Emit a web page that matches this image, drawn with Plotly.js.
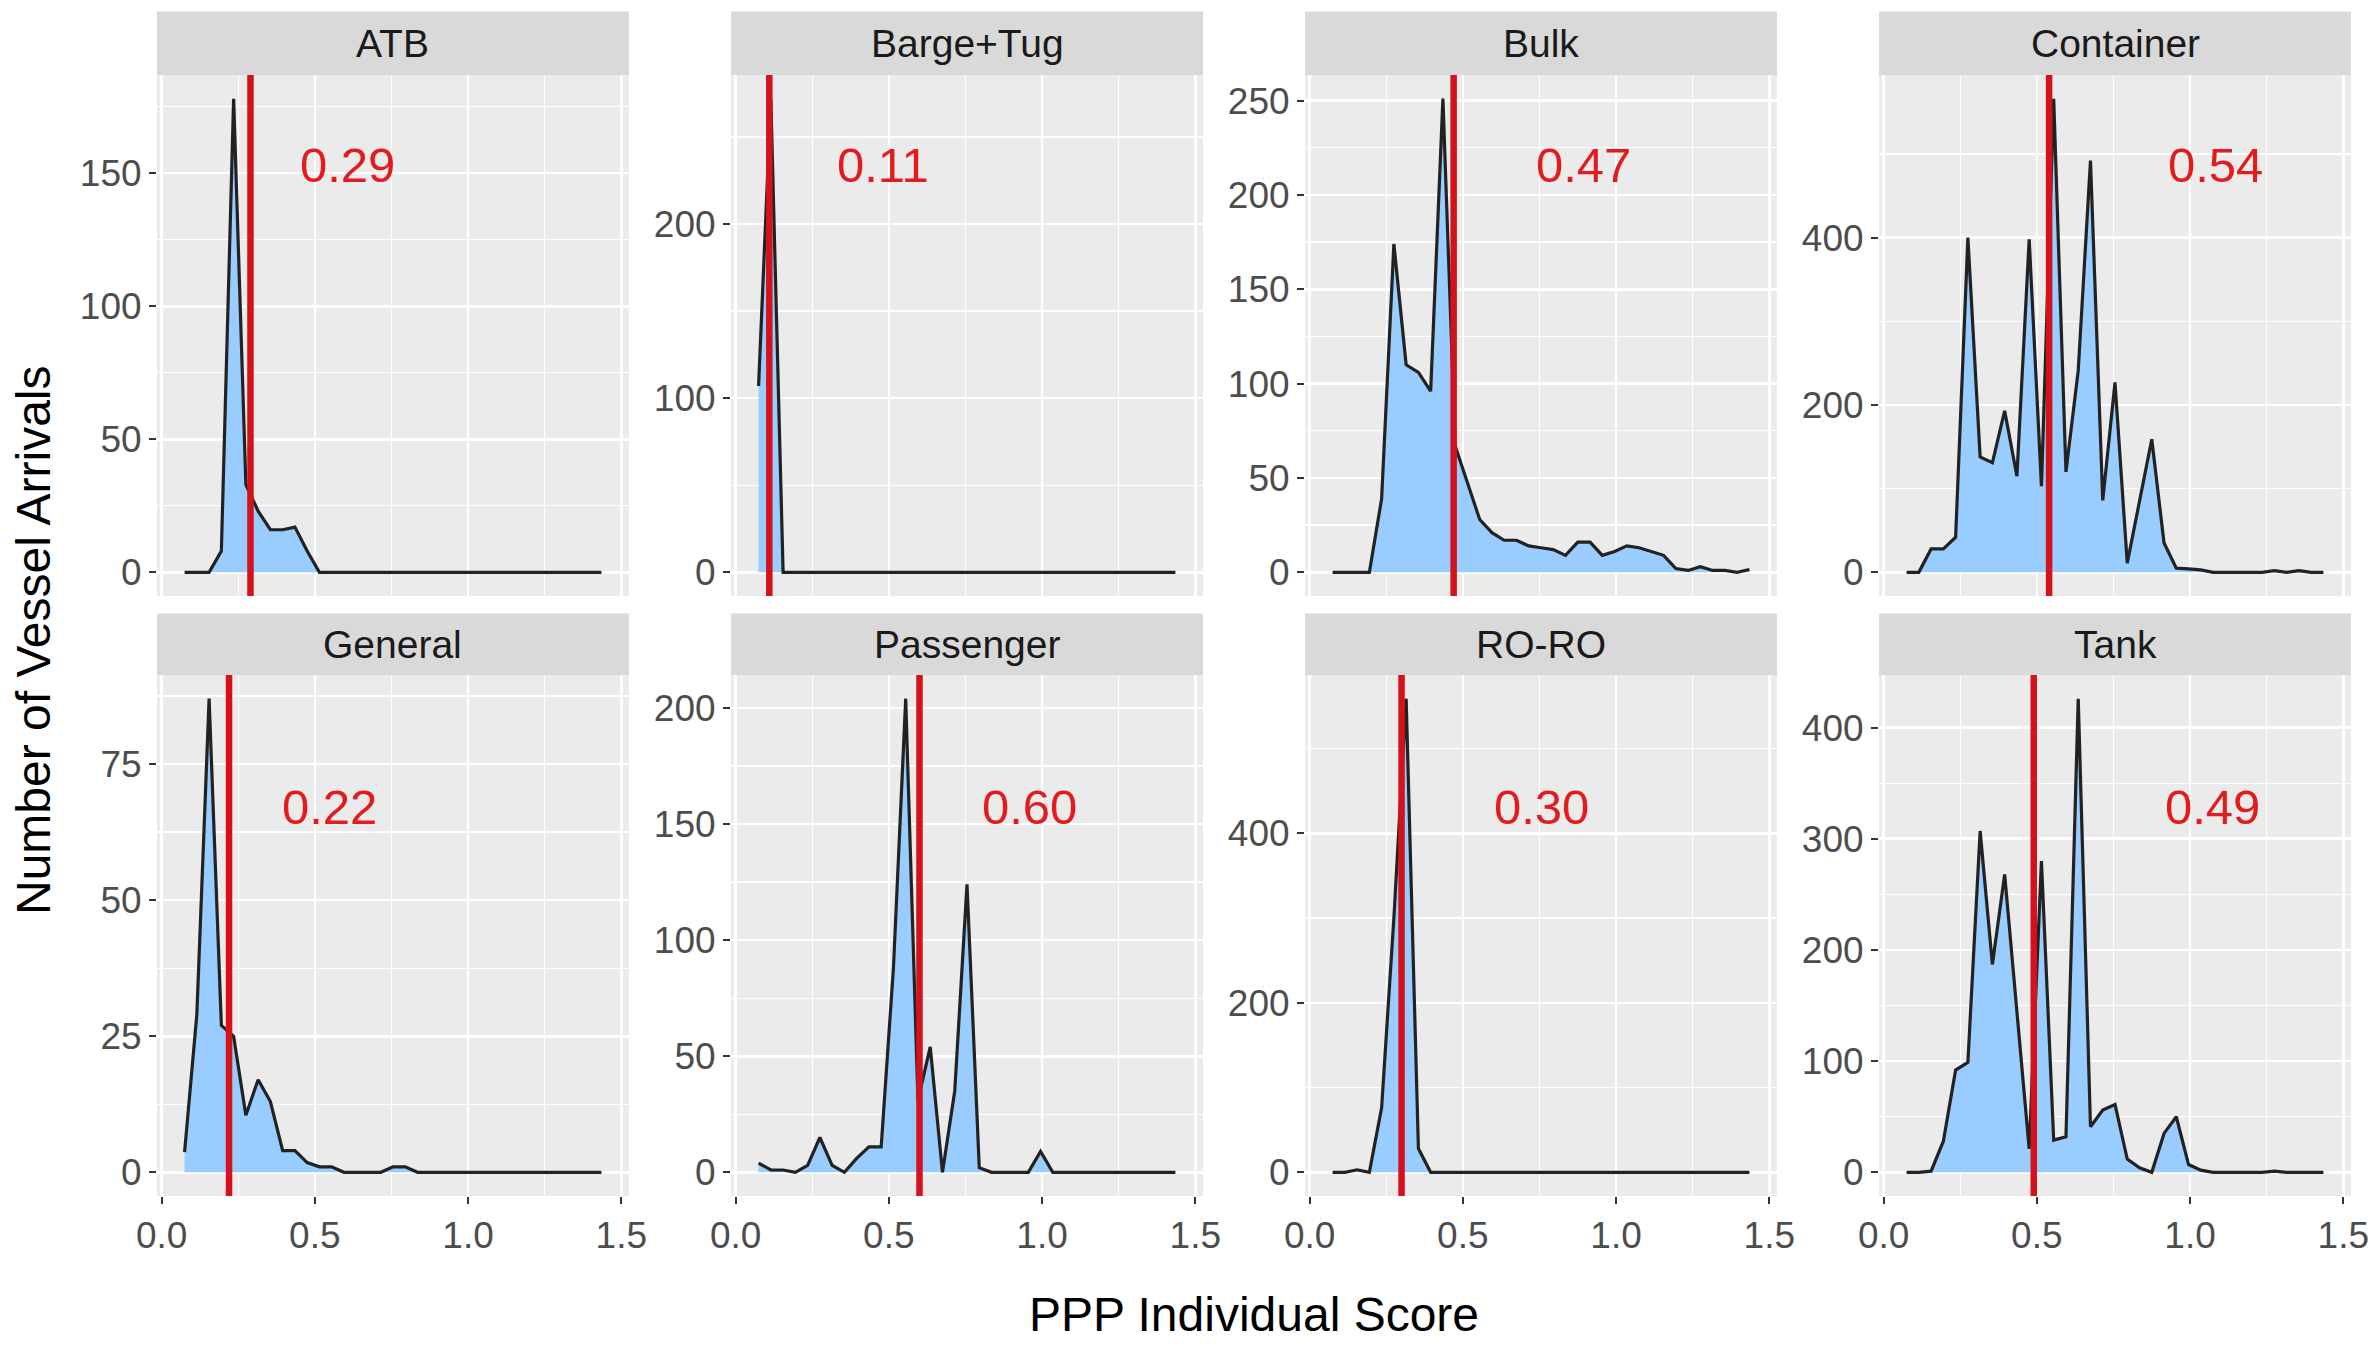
<!DOCTYPE html>
<html>
<head>
<meta charset="utf-8">
<script src="https://cdn.plot.ly/plotly-3.0.1.min.js"></script>
<style>
  html, body { margin: 0; padding: 0; background: #ffffff; }
  #chart { width: 2375px; height: 1348px; }
</style>
</head>
<body>
<div id="chart"></div>
<script>
// ---------------- DATA ----------------
const categories = ["ATB", "Barge+Tug", "Bulk", "Container", "General", "Passenger", "RO-RO", "Tank"];

// bin centres of the frequency polygon (PPP individual score)
const scoreBins = [0.075, 0.115, 0.155, 0.195, 0.235, 0.275, 0.315, 0.355, 0.395, 0.435,
                   0.475, 0.515, 0.555, 0.595, 0.635, 0.675, 0.715, 0.755, 0.795, 0.835,
                   0.875, 0.915, 0.955, 0.995, 1.035, 1.075, 1.115, 1.155, 1.195, 1.235,
                   1.275, 1.315, 1.355, 1.395, 1.435];

const atbCounts       = [0, 0, 0, 8, 178, 33, 23, 16, 16, 17, 8, 0, 0, 0, 0, 0, 0, 0, 0, 0, 0, 0, 0, 0, 0, 0, 0, 0, 0, 0, 0, 0, 0, 0, 0];
const bargeTugCounts  = [107, 272, 0, 0, 0, 0, 0, 0, 0, 0, 0, 0, 0, 0, 0, 0, 0, 0, 0, 0, 0, 0, 0, 0, 0, 0, 0, 0, 0, 0, 0, 0, 0, 0, 0];
const bulkCounts      = [0, 0, 0, 0, 39, 174, 110, 106, 96, 251, 67, 48, 28, 21, 17, 17, 14, 13, 12, 9, 16, 16, 9, 11, 14, 13, 11, 9, 2, 1, 3, 1, 1, 0, 1.5];
const containerCounts = [0, 0, 28, 28, 42, 400, 138, 131, 193, 115, 398, 103, 566, 120, 241, 492, 86, 227, 11, 85, 159, 35, 5, 4, 3, 0, 0, 0, 0, 0, 2, 0, 2, 0, 0];
const generalCounts   = [3.7, 29, 87, 27, 25, 10.5, 17, 13, 4, 4, 1.8, 1, 1, 0, 0, 0, 0, 1, 1, 0, 0, 0, 0, 0, 0, 0, 0, 0, 0, 0, 0, 0, 0, 0, 0];
const passengerCounts = [4, 1, 1, 0, 3, 15, 3, 0, 6, 11, 11, 88, 204, 31, 54, 0, 35, 124, 2, 0, 0, 0, 0, 9, 0, 0, 0, 0, 0, 0, 0, 0, 0, 0, 0];
const roroCounts      = [0, 0, 3, 0, 76, 300, 559, 28, 0, 0, 0, 0, 0, 0, 0, 0, 0, 0, 0, 0, 0, 0, 0, 0, 0, 0, 0, 0, 0, 0, 0, 0, 0, 0, 0];
const tankCounts      = [0, 0, 1, 28, 92, 99, 307, 187, 268, 148, 21, 280, 29, 32, 426, 41, 56, 61, 12, 4, 0, 35, 50, 7, 2, 0, 0, 0, 0, 0, 1, 0, 0, 0, 0];

const meanScores = [0.29, 0.11, 0.47, 0.54, 0.22, 0.60, 0.30, 0.49];

const xTickLabels = ["0.0", "0.5", "1.0", "1.5"];
const xTickValues = [0.0, 0.5, 1.0, 1.5];
const yTickStep   = [50, 100, 50, 200, 25, 50, 200, 100];

const seriesCounts = [atbCounts, bargeTugCounts, bulkCounts, containerCounts,
                      generalCounts, passengerCounts, roroCounts, tankCounts];

// ---------------- LAYOUT / STYLE ----------------
const W = 2375, H = 1348;
const colLeft = [157, 731, 1305, 1879];
const colW = 472;
const rowTop = [75, 675];
const rowH = 521;
const stripTop = [11.5, 613.5];
const labelXPos = [0.608, 0.481, 0.893, 1.084, 0.548, 0.960, 0.758, 1.072]; // annotation placement
const labelYFrac = [0.827, 0.746];
const xRange = [-0.015, 1.525];

const FONT = "Liberation Sans, Arial, Helvetica, sans-serif";
const tickFont = { family: FONT, size: 37, color: "#4D4D4D" };

const traces = [];
const shapes = [];
const annotations = [];
const layout = {
  width: W, height: H, autosize: false,
  margin: { l: 0, r: 0, t: 0, b: 0, pad: 0 },
  paper_bgcolor: "#FFFFFF",
  plot_bgcolor: "#EBEBEB",
  showlegend: false,
  hovermode: false,
  font: { family: FONT }
};

categories.forEach((cat, i) => {
  const row = Math.floor(i / 4), col = i % 4;
  const n = i + 1;
  const xa = "xaxis" + (n === 1 ? "" : n), ya = "yaxis" + (n === 1 ? "" : n);
  const xr = "x" + (n === 1 ? "" : n), yr = "y" + (n === 1 ? "" : n);
  const counts = seriesCounts[i];
  const maxV = Math.max(...counts);

  traces.push({
    type: "scatter", mode: "lines",
    x: scoreBins, y: counts,
    xaxis: xr, yaxis: yr,
    fill: "tozeroy", fillcolor: "#99CCFF",
    line: { color: "#222222", width: 3.2 },
    hoverinfo: "skip"
  });

  const xd = [colLeft[col] / W, (colLeft[col] + colW) / W];
  const yd = [1 - (rowTop[row] + rowH) / H, 1 - rowTop[row] / H];

  layout[xa] = {
    domain: xd, anchor: yr, range: xRange,
    tickmode: "array", tickvals: xTickValues, ticktext: xTickLabels,
    showticklabels: row === 1,
    ticks: row === 1 ? "outside" : "", ticklen: 7, tickwidth: 2, tickcolor: "#333333",
    tickfont: tickFont,
    showgrid: true, gridcolor: "#FFFFFF", gridwidth: 2.6,
    minor: { tickmode: "array", tickvals: [0.25, 0.75, 1.25], showgrid: true, gridcolor: "#FFFFFF", gridwidth: 1.3, ticks: "" },
    zeroline: false, showline: false, fixedrange: true
  };
  layout[ya] = {
    domain: yd, anchor: xr, range: [-0.05 * maxV, 1.05 * maxV],
    tickmode: "linear", tick0: 0, dtick: yTickStep[i],
    ticks: "outside", ticklen: 7, tickwidth: 2, tickcolor: "#333333",
    tickfont: tickFont,
    showgrid: true, gridcolor: "#FFFFFF", gridwidth: 2.6,
    minor: { tick0: yTickStep[i] / 2, dtick: yTickStep[i], showgrid: true, gridcolor: "#FFFFFF", gridwidth: 1.3, ticks: "" },
    zeroline: false, showline: false, fixedrange: true
  };

  // strip
  shapes.push({
    type: "rect", xref: "paper", yref: "paper", layer: "below",
    x0: xd[0], x1: xd[1], y0: yd[1], y1: 1 - stripTop[row] / H,
    fillcolor: "#D9D9D9", line: { width: 0 }
  });
  annotations.push({
    xref: "paper", yref: "paper",
    x: (xd[0] + xd[1]) / 2, y: (yd[1] + 1 - stripTop[row] / H) / 2,
    text: cat, showarrow: false, xanchor: "center", yanchor: "middle",
    font: { family: FONT, size: 39, color: "#1A1A1A" }
  });

  // mean line
  shapes.push({
    type: "line", xref: xr, yref: yr + " domain", layer: "above",
    x0: meanScores[i], x1: meanScores[i], y0: 0, y1: 1,
    line: { color: "#D4121B", width: 6.5 }
  });
  annotations.push({
    xref: xr, yref: yr + " domain",
    x: labelXPos[i], y: labelYFrac[row],
    text: meanScores[i].toFixed(2), showarrow: false,
    xanchor: "center", yanchor: "middle",
    font: { family: FONT, size: 49, color: "#E41A1C" }
  });
});

// axis titles
annotations.push({
  xref: "paper", yref: "paper", x: 33 / W, y: 1 - 640 / H,
  text: "Number of Vessel Arrivals", textangle: -90, showarrow: false,
  xanchor: "center", yanchor: "middle",
  font: { family: FONT, size: 48, color: "#000000" }
});
annotations.push({
  xref: "paper", yref: "paper", x: 1254 / W, y: 1 - 1314 / H,
  text: "PPP Individual Score", showarrow: false,
  xanchor: "center", yanchor: "middle",
  font: { family: FONT, size: 48, color: "#000000" }
});

layout.shapes = shapes;
layout.annotations = annotations;

Plotly.newPlot("chart", traces, layout, { staticPlot: true, displayModeBar: false });
</script>
</body>
</html>
